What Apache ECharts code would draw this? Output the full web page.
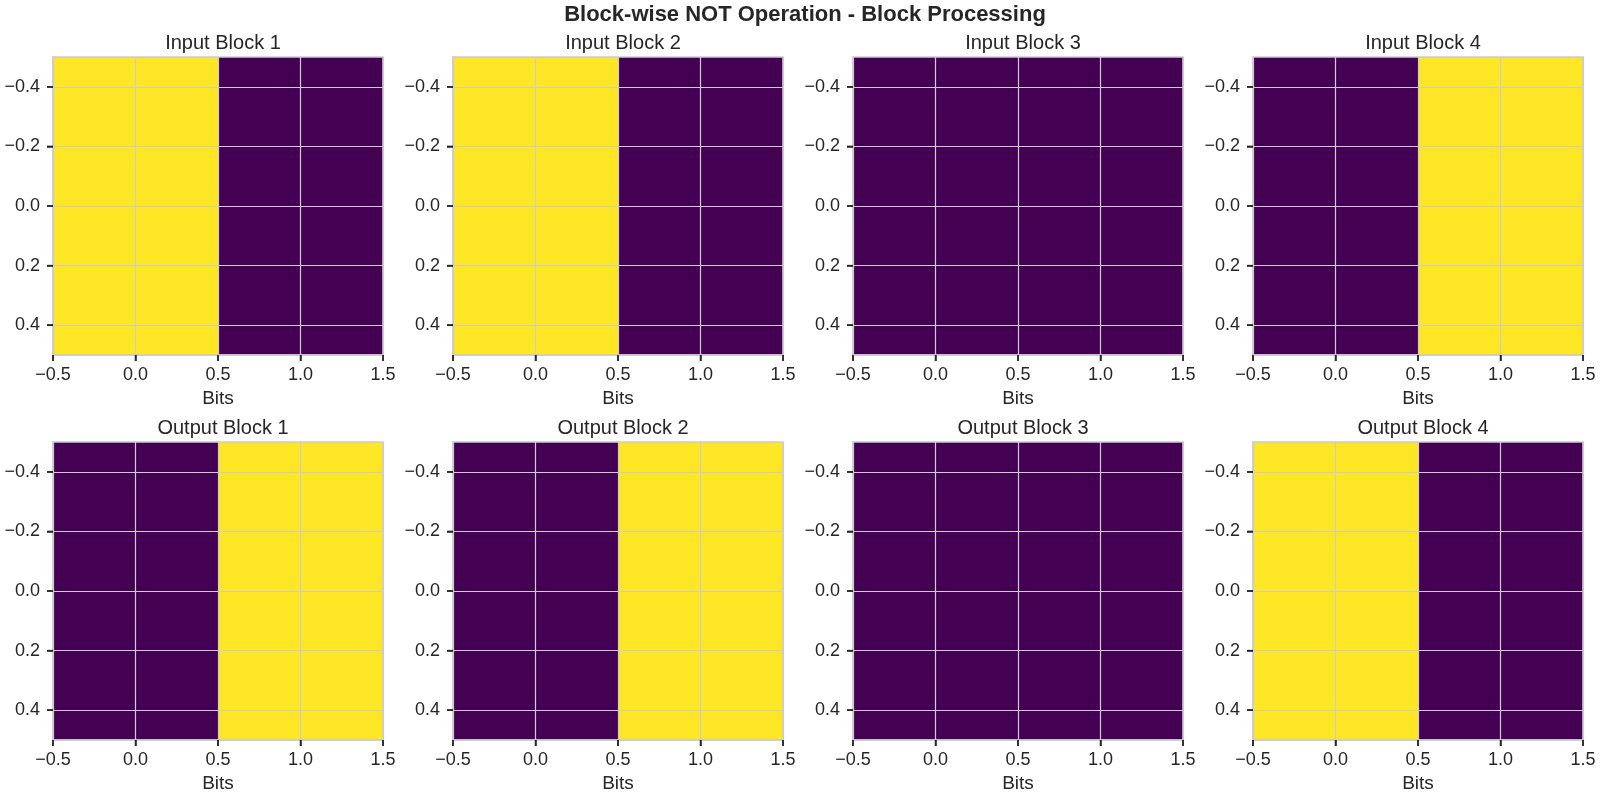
<!DOCTYPE html>
<html>
<head>
<meta charset="utf-8">
<script src="https://cdn.jsdelivr.net/npm/echarts@6/dist/echarts.min.js"></script>
<style>
  html, body { margin: 0; padding: 0; background: #fff; }
  #main { width: 1600px; height: 800px; }
</style>
</head>
<body>
<div id="main"></div>
<script>
// bits of each block (row 0, columns 0..1)
const inputBlocks = [[1, 0], [1, 0], [0, 0], [0, 1]];
const outputBlocks = [[0, 1], [0, 1], [1, 1], [1, 0]];
const inputTitles = ['Input Block 1', 'Input Block 2', 'Input Block 3', 'Input Block 4'];
const outputTitles = ['Output Block 1', 'Output Block 2', 'Output Block 3', 'Output Block 4'];
const xTicks = [-0.5, 0, 0.5, 1.0, 1.5];
const yTicks = [-0.4, -0.2, 0, 0.2, 0.4];

const LOW = '#440154', HIGH = '#fde725';
const FONT = 'Liberation Sans, Arial, sans-serif';
const TXT = '#262626';

const chart = echarts.init(document.getElementById('main'));

function fmt(v) {
    let s = Number(v).toFixed(1);
    return s.replace('-', '\u2212');
}

let grids = [], xAxes = [], yAxes = [], series = [], titles = [];

titles.push({
    text: 'Block-wise NOT Operation - Block Processing',
    left: 800, top: -1, textAlign: 'center',
    textStyle: { fontFamily: FONT, fontSize: 22, fontWeight: 'bold', color: TXT }
});

function addPanel(idx, row, col, bits, name) {
    const left = 53 + col * 400;
    const top = row === 0 ? 57 : 442;
    grids.push({
        left: left, top: top, width: 330, height: 298,
        show: true, borderColor: '#cccccc', borderWidth: 1.6
    });
    titles.push({
        text: name, left: left + 165, top: top - 29, textAlign: 'center',
        textStyle: { fontFamily: FONT, fontSize: 20, fontWeight: 'normal', color: TXT }
    });
    xAxes.push({
        type: 'value', gridIndex: idx, min: -0.5, max: 1.5, interval: 0.5,
        name: 'Bits', nameLocation: 'middle', nameGap: 34,
        nameTextStyle: { fontFamily: FONT, fontSize: 19, color: TXT },
        axisLine: { show: true, onZero: false, lineStyle: { color: '#cccccc', width: 1.6 } },
        axisTick: { show: true, length: 6, customValues: xTicks, lineStyle: { color: TXT, width: 1.5 } },
        axisLabel: { fontFamily: FONT, fontSize: 18, color: TXT, margin: 11, formatter: fmt,
                     customValues: xTicks, showMinLabel: true, showMaxLabel: true },
        splitLine: { show: true, lineStyle: { color: '#cccccc', width: 1.2 } }
    });
    yAxes.push({
        type: 'value', gridIndex: idx, min: -0.5, max: 0.5, inverse: true,
        axisLine: { show: true, onZero: false, lineStyle: { color: '#cccccc', width: 1.6 } },
        axisTick: { show: true, length: 6, customValues: yTicks, lineStyle: { color: TXT, width: 1.5 } },
        axisLabel: { fontFamily: FONT, fontSize: 18, color: TXT, margin: 13, formatter: fmt, customValues: yTicks },
        splitLine: { show: true, lineStyle: { color: '#cccccc', width: 1.2 } }
    });
    const lo = Math.min.apply(null, bits), hi = Math.max.apply(null, bits);
    const data = bits.map((v, c) => [c, 0, v]);
    series.push({
        type: 'custom', xAxisIndex: idx, yAxisIndex: idx, z: -1,
        data: data,
        renderItem: function (params, api) {
            const x = api.value(0), y = api.value(1), v = api.value(2);
            const p0 = api.coord([x - 0.5, y - 0.5]);
            const p1 = api.coord([x + 0.5, y + 0.5]);
            const t = hi > lo ? (v - lo) / (hi - lo) : 0;
            return {
                type: 'rect',
                shape: {
                    x: Math.min(p0[0], p1[0]), y: Math.min(p0[1], p1[1]),
                    width: Math.abs(p1[0] - p0[0]), height: Math.abs(p1[1] - p0[1])
                },
                style: { fill: t > 0.5 ? HIGH : LOW }
            };
        }
    });
}

inputBlocks.forEach((b, i) => addPanel(i, 0, i, b, inputTitles[i]));
outputBlocks.forEach((b, i) => addPanel(i + 4, 1, i, b, outputTitles[i]));

chart.setOption({
    animation: false,
    title: titles,
    grid: grids,
    xAxis: xAxes,
    yAxis: yAxes,
    series: series
});

// outward tick marks, placed through each grid's own scales
const tickMarks = [];
for (let g = 0; g < 8; g++) {
    xTicks.forEach(v => {
        const p = chart.convertToPixel({ gridIndex: g }, [v, 0.5]);
        tickMarks.push({ type: 'line', z: 100, silent: true,
            shape: { x1: p[0], y1: p[1], x2: p[0], y2: p[1] + 6 },
            style: { stroke: TXT, lineWidth: 1.5 } });
    });
    yTicks.forEach(v => {
        const p = chart.convertToPixel({ gridIndex: g }, [-0.5, v]);
        tickMarks.push({ type: 'line', z: 100, silent: true,
            shape: { x1: p[0] - 6, y1: p[1], x2: p[0], y2: p[1] },
            style: { stroke: TXT, lineWidth: 1.5 } });
    });
}
chart.setOption({ graphic: tickMarks });
</script>
</body>
</html>
